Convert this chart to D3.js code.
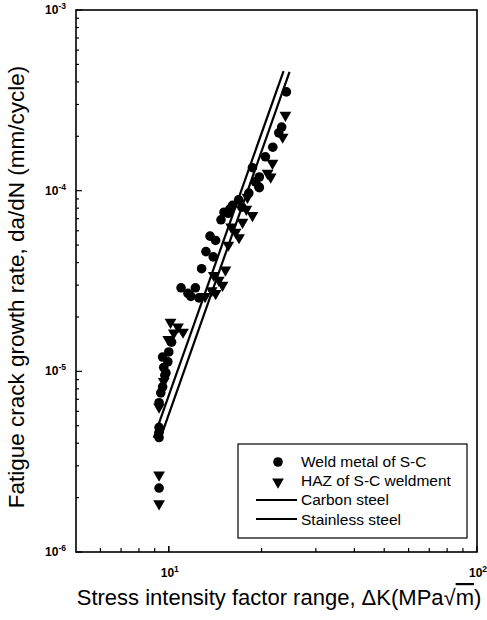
<!DOCTYPE html>
<html>
<head>
<meta charset="utf-8">
<script src="https://cdn.jsdelivr.net/npm/d3@7"></script>
<style>
  body { margin: 0; background: #fff; }
  text { font-family: "Liberation Sans", Arial, sans-serif; fill: #000; }
</style>
</head>
<body>
<script>
'use strict'

// Weld metal of S-C (circles): dK and da/dN
var weldDK   = [24.07, 23.24, 22.74, 21.75, 20.58, 18.68, 19.67, 19.09, 19.67, 18.18, 19.59, 16.85, 16.10, 15.11, 15.60, 14.77, 14.19, 13.20, 12.78, 10.96, 11.54, 12.20, 12.53, 9.55, 10.0, 9.79, 9.93, 9.71, 9.55, 9.42, 9.30, 9.30, 9.30, 9.30, 9.30, 13.61, 11.79, 15.77, 17.26, 13.94, 10.21, 9.63]
var weldRate = [3.52e-4, 2.25e-4, 2.09e-4, 1.74e-4, 1.54e-4, 1.34e-4, 1.19e-4, 1.12e-4, 1.04e-4, 9.7e-5, 1.05e-4, 8.9e-5, 8.3e-5, 7.6e-5, 7.5e-5, 6.9e-5, 5.3e-5, 4.6e-5, 3.7e-5, 2.9e-5, 2.7e-5, 2.9e-5, 2.55e-5, 1.2e-5, 1.28e-5, 9.8e-6, 1.13e-5, 9.5e-6, 8.2e-6, 7.6e-6, 6.7e-6, 4.9e-6, 4.6e-6, 4.3e-6, 2.26e-6, 5.6e-5, 2.6e-5, 7.9e-5, 8.1e-5, 4.3e-5, 1.45e-5, 1.05e-5]

// HAZ of S-C weldment (down triangles)
var hazDK   = [23.90, 23.41, 21.70, 20.92, 21.41, 18.68, 17.35, 16.48, 15.60, 15.27, 14.53, 14.94, 14.19, 10.13, 10.71, 11.12, 10.38, 9.30, 9.30, 9.30, 17.85, 15.94, 13.78, 13.11, 9.96, 9.63, 18.0, 16.9, 14.0]
var hazRate = [2.62e-4, 1.98e-4, 1.42e-4, 1.25e-4, 1.19e-4, 7.3e-5, 6.7e-5, 5.9e-5, 5.0e-5, 3.64e-5, 3.2e-5, 3.0e-5, 2.7e-5, 1.87e-5, 1.76e-5, 1.65e-5, 1.63e-5, 6.35e-6, 2.67e-6, 1.85e-6, 7.9e-5, 6.3e-5, 2.8e-5, 2.6e-5, 1.5e-5, 8.8e-6, 9.2e-5, 5.5e-5, 3.4e-5]

// reference lines, end points
var carbonDK   = [8.94, 23.57]
var carbonRate = [4.28e-6, 4.59e-4]
var stainDK    = [9.35, 24.65]
var stainRate  = [4.17e-6, 4.54e-4]

var xTicks = [10, 100]
var yTicks = [1e-6, 1e-5, 1e-4, 1e-3]
var legendLabels = ["Weld metal of S-C", "HAZ of S-C weldment", "Carbon steel", "Stainless steel"]

var width = 487
var height = 620
var margin = {left: 76, right: 10, top: 10, bottom: 68}

var svg = d3.select("body").append("svg")
  .attr("width", width)
  .attr("height", height)

var x = d3.scaleLog().domain([5, 100]).range([margin.left, width - margin.right])
var y = d3.scaleLog().domain([1e-6, 1e-3]).range([height - margin.bottom, margin.top])

var x0 = x.range()[0], x1 = x.range()[1]
var y0 = y.range()[0], y1 = y.range()[1]

// frame
svg.append("rect")
  .attr("x", x0).attr("y", y1)
  .attr("width", x1 - x0).attr("height", y0 - y1)
  .attr("fill", "none").attr("stroke", "#000").attr("stroke-width", 1.6)

// minor + major ticks, pointing inward
var xMinor = []
for (var v = 6; v < 100; v += (v < 10 ? 1 : 10)) xMinor.push(v)
svg.append("g").selectAll("line")
  .data(xMinor.concat(xTicks))
  .enter().append("line")
  .attr("x1", d => x(d)).attr("x2", d => x(d))
  .attr("y1", y0).attr("y2", d => y0 - (xTicks.indexOf(d) >= 0 ? 6 : 4))
  .attr("stroke", "#000").attr("stroke-width", 1.2)

var yMinor = []
yTicks.slice(0, 3).forEach(function (b) {
  for (var k = 2; k < 10; k++) yMinor.push(b * k)
})
svg.append("g").selectAll("line")
  .data(yMinor.concat(yTicks))
  .enter().append("line")
  .attr("x1", x0).attr("x2", d => x0 + (yTicks.indexOf(d) >= 0 ? 6 : 3))
  .attr("y1", d => y(d)).attr("y2", d => y(d))
  .attr("stroke", "#000").attr("stroke-width", 1.2)

// tick labels
var yl = svg.append("g").selectAll("text")
  .data(yTicks)
  .enter().append("text")
  .attr("x", x0 - 10)
  .attr("y", d => y(d) + 4)
  .attr("text-anchor", "end")
  .style("font-size", "12px").style("font-weight", "bold")
yl.append("tspan").text("10")
yl.append("tspan").attr("dy", -5).style("font-size", "8.5px")
  .text(d => "-" + Math.round(-Math.log10(d)))

var xl = svg.append("g").selectAll("text")
  .data(xTicks)
  .enter().append("text")
  .attr("x", d => x(d) + 1)
  .attr("y", y0 + 25)
  .attr("text-anchor", "middle")
  .style("font-size", "12px").style("font-weight", "bold")
xl.append("tspan").text("10")
xl.append("tspan").attr("dy", -5).style("font-size", "8.5px")
  .text(d => Math.round(Math.log10(d)))

// axis titles
var xt = svg.append("text")
  .attr("x", 279)
  .attr("y", 605)
  .attr("text-anchor", "middle")
  .style("font-size", "22px")
xt.append("tspan").text("Stress intensity factor range, \u0394K(MPa\u221A")
xt.append("tspan").style("text-decoration", "overline").text("m")
xt.append("tspan").text(")")

svg.append("text")
  .attr("transform", "translate(24,287) rotate(-90)")
  .attr("text-anchor", "middle")
  .style("font-size", "22.5px")
  .text("Fatigue crack growth rate, da/dN (mm/cycle)")

// reference lines
var line = d3.line().x(d => x(d[0])).y(d => y(d[1]))
svg.append("path")
  .attr("d", line(d3.zip(carbonDK, carbonRate)))
  .attr("fill", "none").attr("stroke", "#000").attr("stroke-width", 2.2)
svg.append("path")
  .attr("d", line(d3.zip(stainDK, stainRate)))
  .attr("fill", "none").attr("stroke", "#000").attr("stroke-width", 2.2)

// data points
var tri = d3.symbol().type(d3.symbolTriangle).size(60)
svg.append("g").selectAll("path")
  .data(d3.zip(hazDK, hazRate))
  .enter().append("path")
  .attr("d", tri)
  .attr("transform", d => "translate(" + x(d[0]) + "," + y(d[1]) + ") rotate(180)")
  .attr("fill", "#000")

svg.append("g").selectAll("circle")
  .data(d3.zip(weldDK, weldRate))
  .enter().append("circle")
  .attr("cx", d => x(d[0])).attr("cy", d => y(d[1]))
  .attr("r", 4.8)
  .attr("fill", "#000")

// legend
var lg = svg.append("g").attr("transform", "translate(238,444)")
lg.append("rect")
  .attr("width", 229).attr("height", 94)
  .attr("fill", "#fff").attr("stroke", "#000").attr("stroke-width", 1.2)
lg.append("circle").attr("cx", 40).attr("cy", 18).attr("r", 4.8).attr("fill", "#000")
lg.append("path").attr("d", tri).attr("transform", "translate(40,38) rotate(180)").attr("fill", "#000")
lg.append("line").attr("x1", 18).attr("x2", 59).attr("y1", 56).attr("y2", 56)
  .attr("stroke", "#000").attr("stroke-width", 2.2)
lg.append("line").attr("x1", 18).attr("x2", 59).attr("y1", 75).attr("y2", 75)
  .attr("stroke", "#000").attr("stroke-width", 2.2)
lg.selectAll("text.lab")
  .data(legendLabels)
  .enter().append("text")
  .attr("class", "lab")
  .attr("x", 63)
  .attr("y", (d, i) => 23 + i * 19.2)
  .style("font-size", "15.5px")
  .text(d => d)
</script>
</body>
</html>
